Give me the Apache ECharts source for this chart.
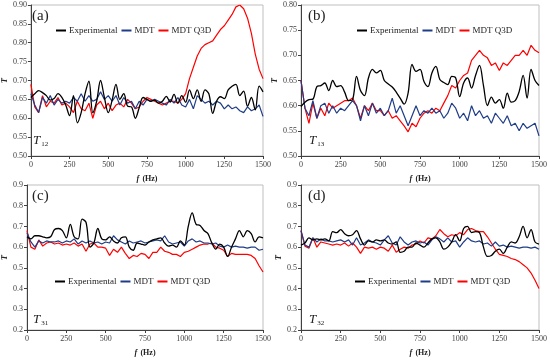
<!DOCTYPE html>
<html><head><meta charset="utf-8">
<script src="https://cdn.jsdelivr.net/npm/echarts@6/dist/echarts.min.js"></script>
<style>html,body{margin:0;padding:0;background:#fff}#c{width:550px;height:360px}</style>
</head><body><div id="c"></div>
<script>
const freq = [0,25,50,75,100,125,150,175,200,225,250,275,300,325,350,375,400,425,450,475,500,525,550,575,600,625,650,675,700,725,750,775,800,825,850,875,900,925,950,975,1000,1025,1050,1075,1100,1125,1150,1175,1200,1225,1250,1275,1300,1325,1350,1375,1400,1425,1450,1475,1500];
const xTicks = [0,250,500,750,1000,1250,1500];
const seriesNames = ['Experimental','MDT','MDT Q3D'];
const panelLabels = ['(a)','(b)','(c)','(d)'];
const panelSubs = ['12','13','31','32'];

const a_exp = [0.655,0.665,0.673,0.668,0.66,0.648,0.652,0.665,0.655,0.635,
0.607,0.66,0.588,0.615,0.665,0.698,0.615,0.645,0.70,0.655,
0.615,0.648,0.69,0.65,0.665,0.632,0.63,0.60,0.628,0.655,
0.65,0.645,0.648,0.64,0.645,0.658,0.643,0.663,0.64,0.66,
0.642,0.675,0.652,0.675,0.645,0.675,0.665,0.613,0.645,0.657,
0.652,0.675,0.685,0.69,0.66,0.672,0.632,0.655,0.622,0.685,0.67];
const a_mdt = [0.665,0.635,0.615,0.655,0.64,0.66,0.635,0.65,0.64,0.645,
0.64,0.655,0.645,0.665,0.645,0.66,0.645,0.65,0.67,0.65,
0.66,0.645,0.66,0.635,0.655,0.64,0.645,0.625,0.645,0.635,
0.65,0.645,0.65,0.645,0.64,0.635,0.65,0.64,0.655,0.635,
0.63,0.65,0.625,0.66,0.65,0.64,0.645,0.635,0.645,0.64,
0.625,0.635,0.625,0.63,0.62,0.615,0.63,0.62,0.625,0.635,0.605];
const a_q3d = [0.69,0.63,0.615,0.66,0.63,0.645,0.64,0.655,0.635,0.64,
0.63,0.615,0.645,0.625,0.62,0.64,0.60,0.635,0.645,0.625,
0.64,0.62,0.635,0.64,0.63,0.65,0.64,0.625,0.63,0.645,
0.655,0.65,0.645,0.64,0.635,0.64,0.645,0.645,0.64,0.65,
0.665,0.705,0.735,0.765,0.785,0.795,0.80,0.805,0.82,0.835,
0.845,0.86,0.875,0.895,0.90,0.89,0.865,0.825,0.77,0.73,0.705];

const b_exp = [0.598,0.607,0.612,0.613,0.638,0.64,0.645,0.63,0.65,0.638,
0.64,0.627,0.61,0.612,0.658,0.63,0.62,0.655,0.672,0.665,
0.67,0.65,0.643,0.637,0.627,0.615,0.603,0.625,0.682,0.668,
0.672,0.648,0.638,0.665,0.678,0.652,0.646,0.642,0.658,0.655,
0.618,0.645,0.655,0.635,0.66,0.68,0.64,0.60,0.617,0.605,
0.612,0.595,0.625,0.607,0.61,0.628,0.66,0.615,0.672,0.65,0.64];
const b_mdt = [0.65,0.595,0.58,0.61,0.575,0.6,0.605,0.585,0.6,0.585,
0.595,0.59,0.6,0.61,0.6,0.57,0.6,0.58,0.605,0.585,
0.595,0.58,0.59,0.615,0.585,0.6,0.58,0.56,0.58,0.6,
0.58,0.59,0.585,0.595,0.585,0.59,0.575,0.585,0.605,0.595,
0.575,0.585,0.57,0.6,0.58,0.59,0.575,0.58,0.565,0.585,
0.575,0.565,0.58,0.56,0.565,0.55,0.565,0.555,0.56,0.565,0.54];
const b_q3d = [0.65,0.595,0.565,0.605,0.575,0.595,0.58,0.605,0.595,0.6,
0.605,0.61,0.61,0.615,0.6,0.575,0.6,0.59,0.605,0.59,
0.59,0.58,0.59,0.575,0.58,0.57,0.56,0.548,0.565,0.558,
0.575,0.585,0.59,0.585,0.595,0.59,0.605,0.62,0.64,0.635,
0.65,0.66,0.665,0.69,0.70,0.71,0.70,0.695,0.68,0.685,
0.67,0.685,0.68,0.69,0.70,0.70,0.71,0.70,0.72,0.71,0.705];

const c_exp = [0.65,0.64,0.655,0.655,0.65,0.645,0.65,0.685,0.69,0.68,
0.645,0.71,0.65,0.64,0.735,0.72,0.60,0.62,0.69,0.64,
0.635,0.65,0.63,0.62,0.645,0.65,0.60,0.585,0.62,0.615,
0.61,0.625,0.635,0.64,0.645,0.62,0.605,0.61,0.60,0.63,
0.61,0.70,0.765,0.71,0.705,0.68,0.665,0.62,0.59,0.615,
0.60,0.555,0.60,0.64,0.68,0.65,0.68,0.665,0.625,0.65,0.645];
const c_mdt = [0.67,0.625,0.60,0.63,0.62,0.63,0.625,0.625,0.63,0.62,
0.63,0.625,0.64,0.615,0.63,0.62,0.63,0.62,0.625,0.615,
0.625,0.62,0.655,0.635,0.625,0.615,0.63,0.62,0.625,0.63,
0.62,0.625,0.63,0.635,0.63,0.655,0.625,0.615,0.62,0.625,
0.605,0.63,0.64,0.625,0.63,0.62,0.62,0.615,0.62,0.605,
0.60,0.61,0.60,0.605,0.60,0.60,0.595,0.60,0.60,0.585,0.59];
const c_q3d = [0.68,0.60,0.59,0.635,0.605,0.62,0.625,0.615,0.62,0.61,
0.615,0.61,0.62,0.605,0.615,0.58,0.615,0.62,0.60,0.60,
0.595,0.56,0.59,0.575,0.60,0.57,0.545,0.56,0.555,0.57,
0.565,0.545,0.575,0.575,0.60,0.58,0.575,0.565,0.565,0.555,
0.575,0.58,0.59,0.60,0.61,0.615,0.615,0.62,0.60,0.595,
0.585,0.555,0.57,0.565,0.565,0.565,0.565,0.56,0.545,0.51,0.48];

const d_exp = [0.61,0.62,0.645,0.635,0.64,0.635,0.64,0.63,0.675,0.67,
0.685,0.665,0.655,0.66,0.68,0.64,0.61,0.63,0.625,0.635,
0.63,0.635,0.62,0.615,0.625,0.575,0.58,0.60,0.60,0.62,
0.61,0.60,0.62,0.64,0.645,0.625,0.59,0.60,0.625,0.66,
0.63,0.69,0.70,0.67,0.675,0.67,0.60,0.555,0.56,0.58,
0.59,0.57,0.60,0.625,0.62,0.65,0.70,0.645,0.685,0.625,0.615];
const d_mdt = [0.68,0.61,0.60,0.645,0.625,0.64,0.63,0.63,0.625,0.63,
0.635,0.625,0.635,0.61,0.645,0.61,0.62,0.635,0.625,0.62,
0.61,0.635,0.655,0.62,0.61,0.65,0.625,0.61,0.625,0.63,
0.62,0.625,0.61,0.635,0.65,0.64,0.625,0.645,0.625,0.63,
0.60,0.625,0.645,0.63,0.625,0.63,0.615,0.62,0.605,0.625,
0.605,0.61,0.60,0.605,0.60,0.595,0.60,0.60,0.595,0.60,0.59];
const d_q3d = [0.68,0.605,0.595,0.645,0.60,0.625,0.62,0.615,0.61,0.615,
0.61,0.62,0.605,0.62,0.60,0.57,0.60,0.595,0.60,0.59,
0.60,0.595,0.58,0.61,0.575,0.59,0.60,0.595,0.61,0.615,
0.63,0.62,0.645,0.64,0.655,0.685,0.665,0.65,0.66,0.655,
0.67,0.66,0.685,0.69,0.68,0.675,0.675,0.65,0.62,0.59,
0.565,0.56,0.555,0.545,0.54,0.53,0.515,0.50,0.475,0.44,0.40];

const panels = [
  {exp:a_exp, mdt:a_mdt, q3d:a_q3d, min:0.5, max:0.9, step:0.05, dec:2},
  {exp:b_exp, mdt:b_mdt, q3d:b_q3d, min:0.5, max:0.8, step:0.05, dec:2},
  {exp:c_exp, mdt:c_mdt, q3d:c_q3d, min:0.2, max:0.9, step:0.1, dec:1},
  {exp:d_exp, mdt:d_mdt, q3d:d_q3d, min:0.2, max:0.9, step:0.1, dec:1}
];
const grids = [
  {left:25, top:5, width:238, height:151},
  {left:301, top:5, width:238, height:151},
  {left:25, top:185, width:238, height:150},
  {left:301, top:185, width:238, height:150}
];
const legendPos = [
  {left:56, top:26},
  {left:357, top:26},
  {left:55, top:277},
  {left:355, top:277}
];
const colors = ['#000000','#1f3c88','#ff0000'];
const SERIF = '"Liberation Serif","DejaVu Serif",serif';

const option = {
  animation:false,
  backgroundColor:'#fff',
  grid: grids.map(g => Object.assign({show:true, borderColor:'#bfbfbf', borderWidth:1, containLabel:false}, g)),
  legend: legendPos.map(p => ({
    left:p.left, top:p.top, padding:0, data:seriesNames, icon:'rect', itemWidth:10, itemHeight:2, itemGap:4,
    textStyle:{fontFamily:SERIF, fontSize:9, color:'#222', padding:[0,0,0,-2]}
  })),
  xAxis: grids.map((g,i) => ({
    type:'value', gridIndex:i, min:0, max:1500, interval:250,
    name:'{i|f} {b|(Hz)}', nameLocation:'middle', nameGap:17,
    nameTextStyle:{rich:{i:{fontFamily:SERIF, fontStyle:'italic', fontWeight:'bold', fontSize:8, color:'#222'}, b:{fontFamily:SERIF, fontWeight:'bold', fontSize:8, color:'#222'}}},
    axisLine:{show:true, onZero:false, lineStyle:{color:'#404040', width:1}},
    axisTick:{show:true, length:3, lineStyle:{color:'#404040'}},
    axisLabel:{fontFamily:SERIF, fontSize:8, color:'#404040', margin:5, formatter:v => String(v)},
    splitLine:{show:false}
  })),
  yAxis: panels.map((p,i) => ({
    type:'value', gridIndex:i, min:p.min, max:p.max, interval:p.step,
    name:'T', nameLocation:'middle', nameGap:18,
    nameTextStyle:{fontFamily:SERIF, fontStyle:'italic', fontWeight:'bold', fontSize:8, color:'#222'},
    axisLine:{show:true, lineStyle:{color:'#404040', width:1}},
    axisTick:{show:true, length:3, lineStyle:{color:'#404040'}},
    axisLabel:{fontFamily:SERIF, fontSize:8, color:'#404040', margin:4, formatter:v => v.toFixed(p.dec)},
    splitLine:{show:false}
  })),
  series: [],
  graphic: []
};
panels.forEach((p,i) => {
  [p.exp, p.mdt, p.q3d].forEach((vals,k) => {
    option.series.push({
      type:'line', name:seriesNames[k], xAxisIndex:i, yAxisIndex:i,
      data: freq.map((f,j) => [f, vals[j]]),
      showSymbol:false, symbol:'none', smooth: k===0 ? 0.35 : false,
      lineStyle:{color:colors[k], width: k===0 ? 1.3 : 1.2},
      itemStyle:{color:colors[k]}, z: 3 - k, clip:true
    });
  });
  const g = grids[i];
  option.graphic.push({
    type:'text', left:g.left+7, top:g.top+4,
    style:{text:panelLabels[i], font:'15px '+SERIF, fill:'#222'}
  });
  option.graphic.push({
    type:'text', left:g.left+8, top:g.top+g.height-22,
    style:{text:'{t|T}{s|'+panelSubs[i]+'}', rich:{
      t:{fontFamily:SERIF, fontStyle:'italic', fontSize:13, fill:'#222', color:'#222'},
      s:{fontFamily:SERIF, fontSize:7, fill:'#222', color:'#222', padding:[7,0,0,1]}
    }}
  });
});
const chart = echarts.init(document.getElementById('c'), null, {renderer:'canvas'});
chart.setOption(option);
</script>
</body></html>
